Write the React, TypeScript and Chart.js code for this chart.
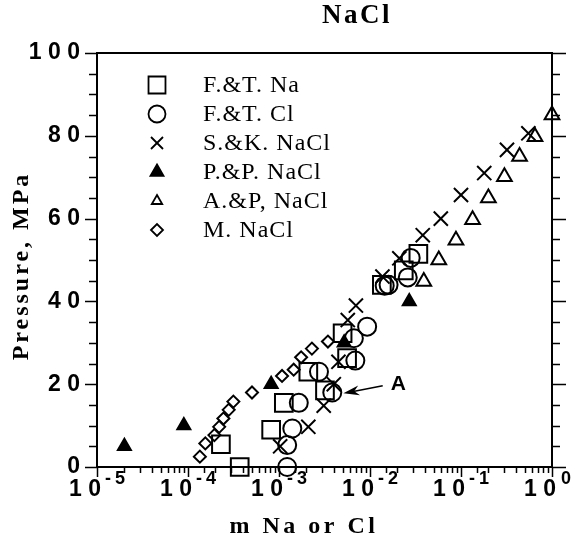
import React, { useEffect, useRef } from 'react';
import { Chart, registerables } from 'chart.js';
import { drawPoint } from 'chart.js/helpers';

Chart.register(...registerables);

// ---- data (molality m, pressure MPa) ----
const ftNa: [number, number][] = [
  [3.7e-4, 0], [2.3e-4, 5.5], [8.2e-4, 9], [1.13e-3, 15.5], [2.1e-3, 23], [3.2e-3, 18.5],
  [5.0e-3, 32.3], [5.6e-3, 26.3], [0.0135, 44], [0.0235, 47.5], [0.034, 51.5],
];
const ftCl: [number, number][] = [
  [1.23e-3, 0], [1.23e-3, 5.3], [1.4e-3, 9.3], [1.65e-3, 15.5], [2.75e-3, 23], [3.85e-3, 18],
  [6.9e-3, 25.7], [6.65e-3, 31.1], [9.3e-3, 33.9], [0.0145, 43.8], [0.016, 44], [0.026, 45.8], [0.028, 50.5],
];
const skNaCl: [number, number][] = [
  [1.03e-3, 5], [2.1e-3, 9.7], [3.1e-3, 14.8], [4.0e-3, 20], [4.5e-3, 25.4], [5.7e-3, 35.5],
  [7.0e-3, 39], [0.0137, 46], [0.021, 50.4], [0.038, 56], [0.06, 60], [0.1, 65.7],
  [0.18, 71], [0.32, 76.6], [0.55, 80.6],
];
const ppNaCl: [number, number][] = [
  [2e-5, 5], [9e-5, 10], [8.2e-4, 20], [5.2e-3, 30], [0.027, 40],
];
const apNaCl: [number, number][] = [
  [0.039, 44.8], [0.057, 50], [0.088, 54.8], [0.134, 59.7], [0.2, 65], [0.3, 70.1],
  [0.44, 75], [0.65, 79.8], [1.0, 85],
];
const mNaCl: [number, number][] = [
  [1.35e-4, 2.5], [1.55e-4, 5.7], [1.95e-4, 7.7], [2.2e-4, 9.7], [2.45e-4, 11.7], [2.8e-4, 13.8],
  [3.15e-4, 15.8], [5.05e-4, 18], [1.08e-3, 22], [1.45e-3, 23.5], [1.75e-3, 26.5], [2.3e-3, 28.6],
  [3.45e-3, 30.3],
];

const seriesLabels = ['F.&T. Na', 'F.&T. Cl', 'S.&K. NaCl', 'P.&P. NaCl', 'A.&P, NaCl', 'M. NaCl'];
const seriesData = [ftNa, ftCl, skNaCl, ppNaCl, apNaCl, mNaCl];
const seriesStyles = ['rect', 'circle', 'crossRot', 'triangle', 'triangle', 'rectRot'];
const seriesFilled = [false, false, false, true, false, false];
const seriesRadius = [12.5, 9, 10, 7.5, 8.5, 6];
const legendRadius = [12, 8.5, 8.5, 7.5, 6, 6];

const xMin = 1e-5;
const xMax = 1;
const yMin = 0;
const yMax = 100;

const titleText = 'NaCl';
const xTitle = 'm Na or Cl';
const yTitle = 'Pressure, MPa';
const annotText = 'A';
const annotTail: [number, number] = [0.0138, 19.6];
const annotTip: [number, number] = [5.1e-3, 17.8];
const annotLabel: [number, number] = [0.0205, 20];

const serif = '"Liberation Serif", "Times New Roman", serif';
const sans = '"Liberation Sans", Arial, sans-serif';

const isPow10 = (v: number) => Math.abs(Math.log10(v) - Math.round(Math.log10(v))) < 1e-9;

const decor = {
  id: 'decor',
  afterDraw(chart: any) {
    const { ctx, chartArea, scales } = chart;
    const { left, right, top, bottom } = chartArea;
    const x = scales.x;
    const y = scales.y;
    ctx.save();
    ctx.strokeStyle = '#000';
    ctx.fillStyle = '#000';
    // frame top & right
    ctx.lineWidth = 2;
    ctx.beginPath();
    ctx.moveTo(left - 1, top);
    ctx.lineTo(right, top);
    ctx.lineTo(right, bottom + 1);
    ctx.stroke();
    // ticks
    ctx.lineWidth = 1.5;
    ctx.beginPath();
    y.ticks.forEach((t: any) => {
      const py = Math.round(y.getPixelForValue(t.value)) + 0.5;
      const major = t.value % 20 === 0;
      ctx.moveTo(left - (major ? 12 : 8), py);
      ctx.lineTo(left, py);
      ctx.moveTo(right, py);
      ctx.lineTo(right + (major ? 14 : 8), py);
    });
    x.ticks.forEach((t: any) => {
      const px = Math.round(x.getPixelForValue(t.value)) + 0.5;
      const major = isPow10(t.value);
      ctx.moveTo(px, bottom);
      ctx.lineTo(px, bottom + (major ? 10 : 6));
    });
    ctx.stroke();

    // exponents of x tick labels (superscripts)
    ctx.textAlign = 'left';
    ctx.textBaseline = 'middle';
    ctx.font = `bold 18px ${sans}`;
    x.ticks.forEach((t: any) => {
      if (!isPow10(t.value)) return;
      const e = Math.round(Math.log10(t.value));
      const px = x.getPixelForValue(t.value);
      if (e < 0) {
        ctx.fillText('-', px + 8, 479);
        ctx.fillText(String(-e), px + 18, 479);
      } else {
        ctx.fillText(String(e), px + 9, 479);
      }
    });

    // titles
    ctx.textAlign = 'center';
    ctx.font = `bold 27px ${serif}`;
    (ctx as any).letterSpacing = '2.5px';
    ctx.fillText(titleText, 357, 16);
    ctx.font = `bold 24px ${serif}`;
    (ctx as any).letterSpacing = '3.5px';
    ctx.fillText(xTitle, 304, 527);
    (ctx as any).letterSpacing = '3px';
    ctx.save();
    ctx.translate(22, 266);
    ctx.rotate(-Math.PI / 2);
    ctx.fillText(yTitle, 0, 0);
    ctx.restore();

    // legend
    const rowY = [85, 114, 143, 172, 201, 230];
    ctx.textAlign = 'left';
    ctx.font = `24px ${serif}`;
    (ctx as any).letterSpacing = '1px';
    seriesLabels.forEach((lab, i) => {
      ctx.lineWidth = 1.8;
      ctx.strokeStyle = '#000';
      ctx.fillStyle = seriesFilled[i] ? '#000' : 'rgba(0,0,0,0)';
      drawPoint(ctx, { pointStyle: seriesStyles[i] as any, radius: legendRadius[i], rotation: 0, borderWidth: 1.8 }, 157, rowY[i]);
      ctx.fillStyle = '#000';
      ctx.fillText(lab, 203, rowY[i] + 1);
    });
    (ctx as any).letterSpacing = '0px';

    // annotation
    const tx = x.getPixelForValue(annotTip[0]);
    const ty = y.getPixelForValue(annotTip[1]);
    const sx = x.getPixelForValue(annotTail[0]);
    const sy = y.getPixelForValue(annotTail[1]);
    const ang = Math.atan2(ty - sy, tx - sx);
    ctx.lineWidth = 1.5;
    ctx.beginPath();
    ctx.moveTo(sx, sy);
    ctx.lineTo(tx - Math.cos(ang) * 10, ty - Math.sin(ang) * 10);
    ctx.stroke();
    ctx.beginPath();
    ctx.moveTo(tx, ty);
    ctx.lineTo(tx - Math.cos(ang) * 16 + Math.sin(ang) * 5, ty - Math.sin(ang) * 16 - Math.cos(ang) * 5);
    ctx.lineTo(tx - Math.cos(ang) * 11, ty - Math.sin(ang) * 11);
    ctx.lineTo(tx - Math.cos(ang) * 16 - Math.sin(ang) * 5, ty - Math.sin(ang) * 16 + Math.cos(ang) * 5);
    ctx.closePath();
    ctx.fill();
    ctx.font = `bold 21px ${sans}`;
    ctx.textAlign = 'center';
    ctx.fillText(annotText, x.getPixelForValue(annotLabel[0]), y.getPixelForValue(annotLabel[1]));
    ctx.restore();
  },
};

export default function App() {
  const ref = useRef<HTMLCanvasElement>(null);
  useEffect(() => {
    const datasets = seriesData.map((d, i) => ({
      label: seriesLabels[i],
      data: d.map(([m, p]) => ({ x: m, y: p })),
      pointStyle: seriesStyles[i] as any,
      pointRadius: seriesRadius[i],
      pointHoverRadius: seriesRadius[i],
      pointBorderWidth: 2,
      pointBorderColor: '#000',
      pointBackgroundColor: seriesFilled[i] ? '#000' : 'rgba(0,0,0,0)',
      showLine: false,
      clip: false as any,
    }));
    const chart = new Chart(ref.current!, {
      type: 'scatter',
      data: { datasets },
      plugins: [decor],
      options: {
        animation: false,
        responsive: true,
        maintainAspectRatio: false,
        layout: { padding: { top: 53, right: 27, left: 0, bottom: 0 } },
        plugins: { legend: { display: false }, tooltip: { enabled: false }, title: { display: false } },
        scales: {
          x: {
            type: 'logarithmic',
            min: xMin,
            max: xMax,
            afterFit: (s: any) => { s.height = 74; s.paddingLeft = 0; s.paddingRight = 0; },
            grid: { display: false, drawTicks: false },
            border: { display: true, width: 2, color: '#000' },
            ticks: {
              autoSkip: false,
              maxRotation: 0,
              minRotation: 0,
              padding: 9,
              labelOffset: -12,
              color: '#000',
              font: { family: sans, weight: 'bold', size: 23 },
              callback: (v: any) => (isPow10(Number(v)) ? '1 0' : ''),
            },
          },
          y: {
            min: yMin,
            max: yMax,
            afterFit: (s: any) => { s.width = 97; s.paddingTop = 0; s.paddingBottom = 0; },
            grid: { display: false, drawTicks: false },
            border: { display: true, width: 2, color: '#000' },
            ticks: {
              stepSize: 5,
              autoSkip: false,
              padding: 17,
              color: '#000',
              font: { family: sans, weight: 'bold', size: 23 },
              callback: (v: any) => (Number(v) % 20 === 0 ? String(v).split('').join(' ') : ''),
            },
          },
        },
      },
    });
    return () => chart.destroy();
  }, []);
  return (
    <div style={{ position: 'fixed', left: 0, top: 0, width: 579, height: 541, background: '#fff' }}>
      <canvas ref={ref} />
    </div>
  );
}
